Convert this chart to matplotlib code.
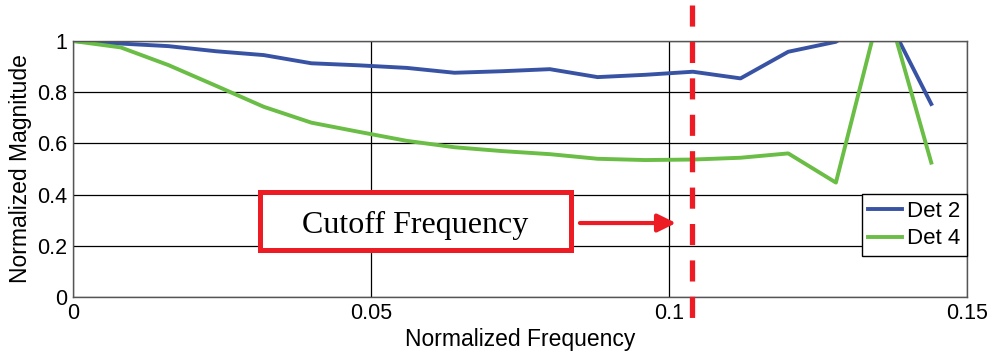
import matplotlib
matplotlib.use("Agg")
import matplotlib.pyplot as plt
from matplotlib.patches import Rectangle, FancyArrowPatch

# normalized frequency samples
freq = [0.0, 0.008, 0.016, 0.024, 0.032, 0.040, 0.048, 0.056, 0.064, 0.072,
        0.080, 0.088, 0.096, 0.104, 0.112, 0.120, 0.128, 0.136, 0.144]
det2 = [1.0, 0.99, 0.98, 0.96, 0.945, 0.913, 0.905, 0.895, 0.876, 0.882,
        0.89, 0.859, 0.868, 0.88, 0.854, 0.958, 0.997, 1.12, 0.754]
det4 = [1.0, 0.975, 0.906, 0.825, 0.743, 0.681, 0.645, 0.61, 0.585, 0.57,
        0.558, 0.54, 0.535, 0.537, 0.544, 0.561, 0.447, 1.18, 0.525]
cutoff = 0.1038

xticks = [0, 0.05, 0.1, 0.15]
xticklabels = ["0", "0.05", "0.1", "0.15"]
yticks = [0, 0.2, 0.4, 0.6, 0.8, 1.0]
yticklabels = ["0", "0.2", "0.4", "0.6", "0.8", "1"]

BLUE = "#3953a4"
GREEN = "#6abd45"
RED = "#ed1c24"

plt.rcParams.update({
    "font.family": ["Liberation Sans", "DejaVu Sans"],
    "font.size": 15,
})

fig = plt.figure(figsize=(9.91, 3.56), dpi=100)
ax = fig.add_axes([0.0737, 0.1657, 0.9021, 0.7191])

ax.plot(freq, det2, color=BLUE, lw=2.8, label="Det 2")
ax.plot(freq, det4, color=GREEN, lw=2.8, label="Det 4")

ax.set_xlim(0, 0.15)
ax.set_ylim(0, 1)
ax.set_xticks(xticks)
ax.set_xticklabels(xticklabels)
ax.set_yticks(yticks)
ax.set_yticklabels(yticklabels)
ax.tick_params(length=0, pad=4, labelsize=15.5)
ax.grid(True, color="black", lw=0.9)
ax.set_axisbelow(True)
for s in ax.spines.values():
    s.set_color("#555555")
    s.set_linewidth(1.0)

ax.set_xlabel("Normalized Frequency", fontsize=16.5, labelpad=3)
ax.set_ylabel("Normalized Magnitude", fontsize=16.5, labelpad=4)

leg = ax.legend(loc="lower right", bbox_to_anchor=(1.0, 0.16), borderaxespad=0,
                fancybox=False, framealpha=1, edgecolor="black", fontsize=16,
                handlelength=1.5, handletextpad=0.25, borderpad=0.3,
                labelspacing=0.3)
leg.get_frame().set_linewidth(1.0)

# cutoff marker, runs past the axes at both ends
trans = ax.get_xaxis_transform()
ax.plot([cutoff, cutoff], [1.14, -0.117], transform=trans, color=RED, lw=3.8,
        dashes=(4.0, 2.9), clip_on=False, zorder=5)

# annotation box with arrow
ax.add_patch(Rectangle((0.209, 0.182), 0.348, 0.230, transform=ax.transAxes,
                       fill=True, facecolor="white", edgecolor=RED, lw=3.6,
                       zorder=4))
ax.text(0.383, 0.25, "Cutoff Frequency", transform=ax.transAxes,
        ha="center", va="baseline", fontsize=23, zorder=5,
        family=["Liberation Serif", "DejaVu Serif"])
ax.add_patch(FancyArrowPatch((0.567, 0.289), (0.6745, 0.289),
                             transform=ax.transAxes, color=RED, lw=3,
                             arrowstyle="-|>,head_length=0.55,head_width=0.27",
                             mutation_scale=20, shrinkA=0, shrinkB=0,
                             clip_on=False, zorder=5))

fig.savefig("out.png", dpi=100)
